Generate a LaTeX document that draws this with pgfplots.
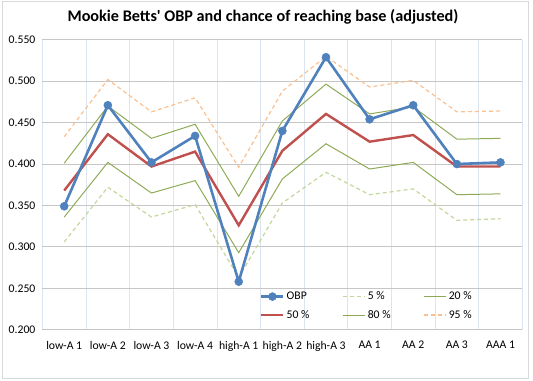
\documentclass[border=0pt]{standalone}
\usepackage{pgfplots}
\pgfplotsset{compat=1.18}
\usepackage{fontspec}
\setmainfont{Carlito}
\definecolor{cBlue}{HTML}{4F81BD}
\definecolor{cRed}{HTML}{C0504D}
\definecolor{cGreen}{HTML}{8FAA55}
\definecolor{cLGreen}{HTML}{C3D69B}
\definecolor{cOrange}{HTML}{FAC090}
\definecolor{cHGrid}{HTML}{C6C6C6}
\definecolor{cVGrid}{HTML}{DCE4F0}
\definecolor{cBorder}{HTML}{D9D9D9}
\begin{document}
\begin{tikzpicture}
\path[use as bounding box] (0bp,0bp) rectangle (533bp,381bp);
\draw[cBorder, line width=0.8bp] (2bp,3bp) rectangle (528.5bp,379.5bp);
\node[font=\bfseries\fontsize{16.2bp}{20bp}\selectfont] at (263bp,364bp) {Mookie Betts\textquotesingle\ OBP and chance of reaching base (adjusted)};
\begin{axis}[
  at={(42.4bp,51.3bp)}, anchor=south west,
  width=479.9bp, height=289.9bp, scale only axis,
  xmin=-0.5, xmax=10.5, ymin=0.2, ymax=0.55,
  xtick={0,...,10},
  xticklabels={low-A 1,low-A 2,low-A 3,low-A 4,high-A 1,high-A 2,high-A 3,AA 1,AA 2,AA 3,AAA 1},
  minor xtick={-0.5,0.5,...,10.5},
  ytick={0.2,0.25,...,0.55},
  major tick length=0pt, minor tick length=0pt,
  xmajorgrids=false, xminorgrids=true, ymajorgrids=true,
  minor x grid style={cVGrid, line width=0.8bp},
  major y grid style={cHGrid, line width=0.8bp},
  axis line style={draw=none},
  /pgf/number format/assume math mode=true,
  yticklabel={\pgfmathprintnumber[fixed,fixed zerofill,precision=3]{\tick}},
  ticklabel style={font=\fontsize{11.7bp}{14bp}\selectfont},
  yticklabel style={xshift=-3.5bp},
  xticklabel style={yshift=-8bp},
  legend columns=3,
  legend style={at={(0.447,0.145)}, anchor=north west, draw=none, fill=none,
    font=\fontsize{11.7bp}{14bp}\selectfont,
    /tikz/every even column/.append style={column sep=31bp},
    row sep=5bp},
  legend cell align=left,
  legend image code/.code={\draw[mark repeat=2,mark phase=2,#1] plot coordinates {(0bp,0bp) (11bp,0bp) (22bp,0bp)};},
  clip=false,
]
% 95 %
\addplot[forget plot, cOrange, line width=1.2bp, dash pattern=on 4bp off 3bp] coordinates {
(0,0.433) (1,0.502) (2,0.463) (3,0.480) (4,0.396) (5,0.488) (6,0.530) (7,0.493) (8,0.501) (9,0.463) (10,0.464)};
% 80 %
\addplot[forget plot, cGreen, line width=1bp] coordinates {
(0,0.401) (1,0.470) (2,0.431) (3,0.448) (4,0.361) (5,0.452) (6,0.4965) (7,0.4605) (8,0.469) (9,0.430) (10,0.431)};
% 20 %
\addplot[forget plot, cGreen, line width=1bp] coordinates {
(0,0.336) (1,0.402) (2,0.365) (3,0.380) (4,0.293) (5,0.382) (6,0.4245) (7,0.394) (8,0.402) (9,0.363) (10,0.364)};
% 5 %
\addplot[forget plot, cLGreen, line width=1.2bp, dash pattern=on 4bp off 3bp] coordinates {
(0,0.306) (1,0.372) (2,0.336) (3,0.351) (4,0.263) (5,0.353) (6,0.390) (7,0.363) (8,0.370) (9,0.332) (10,0.334)};
% 50 %
\addplot[forget plot, cRed, line width=2.4bp] coordinates {
(0,0.368) (1,0.436) (2,0.397) (3,0.415) (4,0.326) (5,0.416) (6,0.4605) (7,0.427) (8,0.435) (9,0.397) (10,0.397)};
% OBP
\addplot[forget plot, cBlue, line width=2.6bp, mark=*, mark size=4bp, mark options={solid, fill=cBlue, draw=cBlue, line width=0.5bp}] coordinates {
(0,0.349) (1,0.471) (2,0.402) (3,0.434) (4,0.258) (5,0.440) (6,0.529) (7,0.454) (8,0.471) (9,0.400) (10,0.402)};
\addlegendimage{cBlue, line width=2.6bp, mark=*, mark size=4bp, mark options={solid, fill=cBlue, line width=0.5bp}}
\addlegendentry{OBP}
\addlegendimage{cLGreen, line width=1.2bp, dash pattern=on 4bp off 3bp}
\addlegendentry{5 \%}
\addlegendimage{cGreen, line width=1bp}
\addlegendentry{20 \%}
\addlegendimage{cRed, line width=2.4bp}
\addlegendentry{50 \%}
\addlegendimage{cGreen, line width=1bp}
\addlegendentry{80 \%}
\addlegendimage{cOrange, line width=1.2bp, dash pattern=on 4bp off 3bp}
\addlegendentry{95 \%}
\end{axis}
\end{tikzpicture}
\end{document}
